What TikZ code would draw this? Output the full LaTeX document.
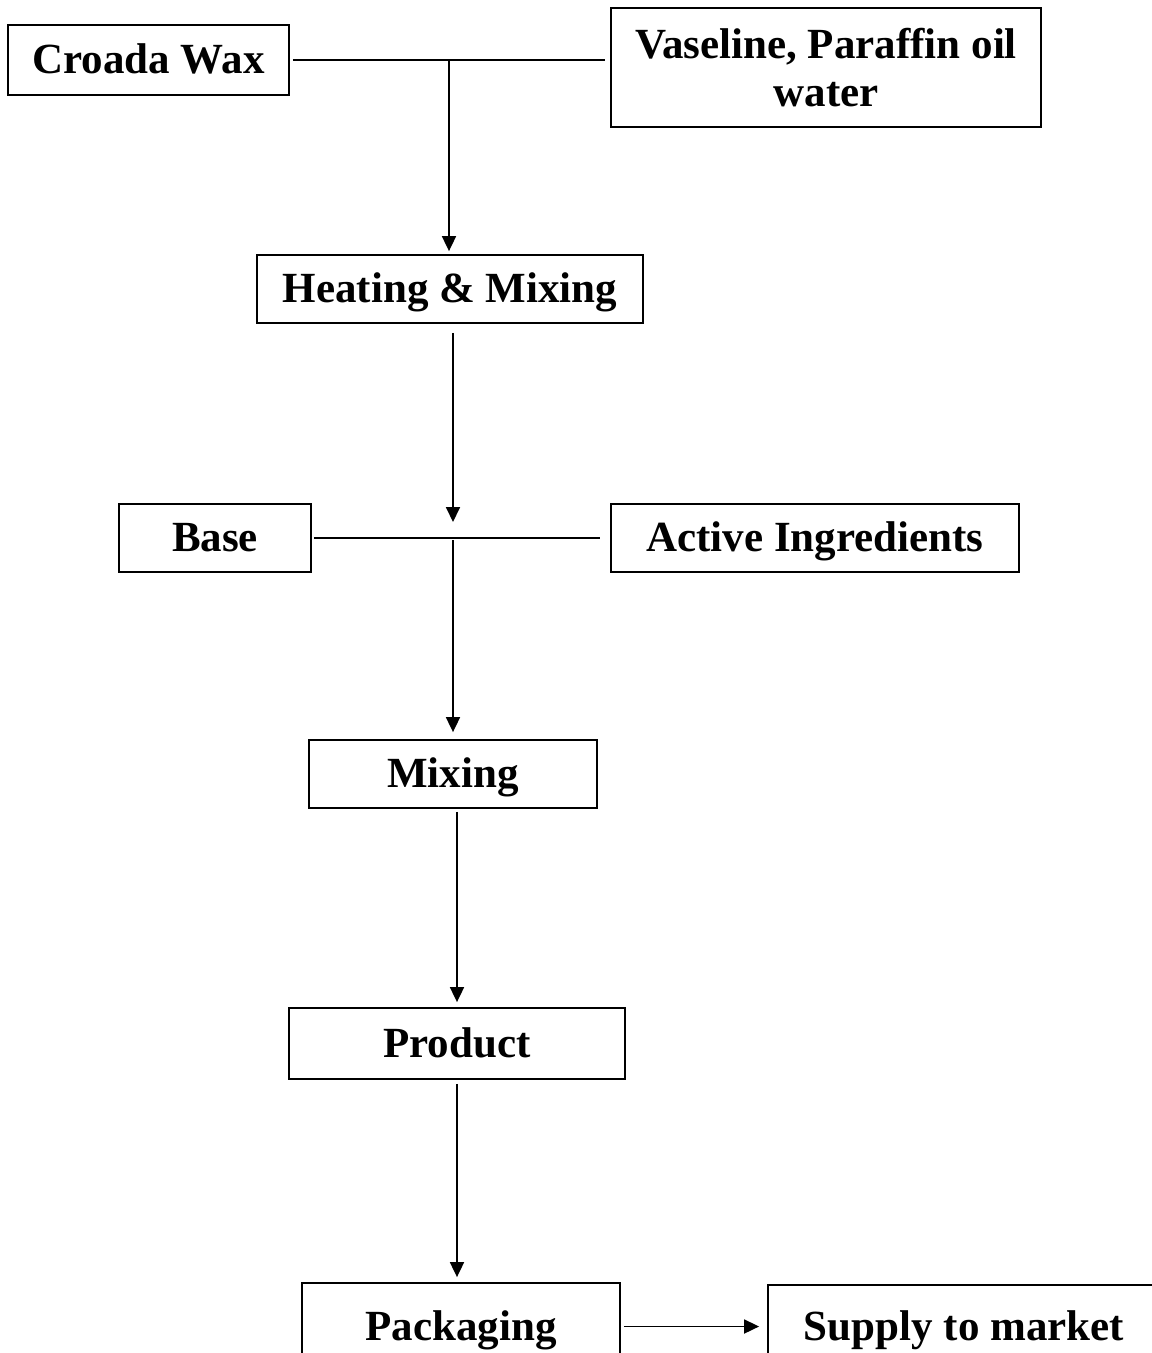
\documentclass[tikz,border=0pt]{standalone}
\usepackage{fontspec}
\setmainfont{Liberation Serif}
\usetikzlibrary{arrows.meta,calc}
\begin{document}
\begin{tikzpicture}[x=1pt,y=-1pt,
  box/.style={draw,line width=1.8pt,inner sep=0pt,align=center,
    font=\fontsize{43}{48}\selectfont\bfseries},
  one/.style={text height=33pt,text depth=6pt},
  conn/.style={line width=1.8pt},
  arr/.style={line width=1.8pt,-{Triangle[width=14pt,length=15pt]}}]
\clip (0,0) rectangle (1152,1353);
\fill[white] (0,0) rectangle (1152,1353);
\node[box,one,minimum width=281pt,minimum height=70pt] (cro) at (148.5,60) {Croada Wax};
\node[box,minimum width=430pt,minimum height=119pt] (vas) at (826,67.5) {Vaseline, Paraffin oil\\water};
\node[box,one,minimum width=386pt,minimum height=68pt] (heat) at (450,289) {Heating \& Mixing};
\node[box,one,minimum width=192pt,minimum height=68pt] (base) at (215,538) {Base};
\node[box,one,minimum width=408pt,minimum height=68pt] (act) at (815,538) {Active Ingredients};
\node[box,one,minimum width=288pt,minimum height=68pt] (mix) at (453,774) {Mixing};
\node[box,one,minimum width=336pt,minimum height=71pt] (prod) at (457,1043.5) {Product};
\node[box,one,minimum width=318pt,minimum height=87pt] (pack) at (461,1326.5) {Packaging};
\node[box,one,minimum width=392pt,minimum height=84pt] (sup) at (964,1327) {Supply to market};
\coordinate (j1) at (449,60);
\coordinate (j2) at (453,538);
\draw[conn,shorten <=3pt,shorten >=5pt] (cro.east) -- (vas.west |- cro.east);
\draw[arr,shorten >=3pt] (j1) -- (heat.north -| j1);
\draw[arr,shorten <=9pt,shorten >=16pt] (heat.south -| j2) -- (j2);
\draw[conn,shorten <=2pt,shorten >=10pt] (base.east) -- (act.west);
\draw[arr,shorten <=2pt,shorten >=7pt] (j2) -- (mix.north -| j2);
\draw[arr,shorten <=3pt,shorten >=5pt] (mix.south -| prod.north) -- (prod.north);
\draw[arr,shorten <=4pt,shorten >=5pt] (prod.south) -- (pack.north -| prod.south);
\draw[arr,shorten <=3pt,shorten >=8pt] (pack.east) -- (sup.west |- pack.east);
\end{tikzpicture}
\end{document}
